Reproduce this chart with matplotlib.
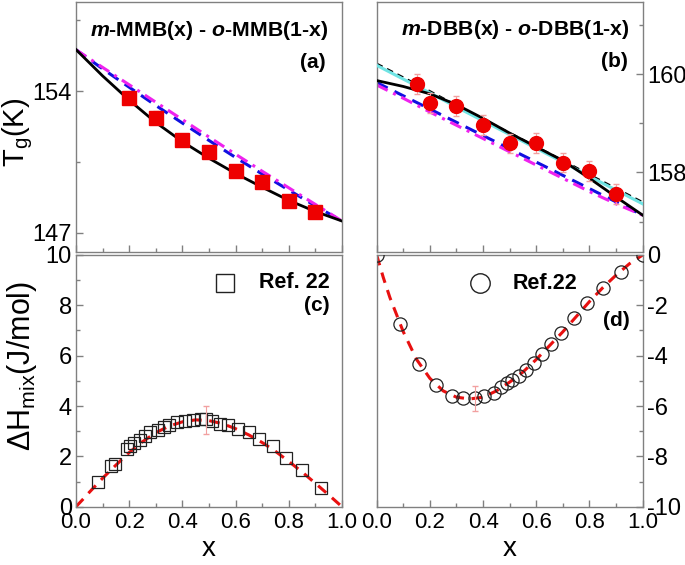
import matplotlib
matplotlib.use('Agg')
import matplotlib.pyplot as plt
from matplotlib.ticker import MultipleLocator, NullFormatter

plt.rcParams['font.family'] = ['Liberation Sans', 'DejaVu Sans']
plt.rcParams['mathtext.fontset'] = 'custom'
plt.rcParams['mathtext.rm'] = 'Liberation Sans'
plt.rcParams['mathtext.it'] = 'Liberation Sans:italic:bold'
plt.rcParams['mathtext.bf'] = 'Liberation Sans:bold'
plt.rcParams['axes.unicode_minus'] = False

# (a) m-MMB / o-MMB glass transition
x_a = [0.2, 0.3, 0.4, 0.5, 0.6, 0.7, 0.8, 0.9]
tg_a = [153.66, 152.69, 151.57, 150.97, 150.06, 149.52, 148.58, 148.04]
tg_a_err = [0.3] * 8
x_fit = [0.0, 0.1, 0.2, 0.3, 0.4, 0.5, 0.6, 0.7, 0.8, 0.9, 1.0]
a_black = [156.05, 154.75, 153.55, 152.45, 151.50, 150.68, 149.93, 149.25, 148.60, 148.05, 147.58]
a_blue = [156.04, 155.10, 154.19, 153.29, 152.42, 151.56, 150.72, 149.90, 149.11, 148.33, 147.58]
a_magenta = [156.04, 155.17, 154.31, 153.45, 152.59, 151.73, 150.88, 150.04, 149.22, 148.40, 147.58]

# (b) m-DBB / o-DBB glass transition
x_b = [0.15, 0.2, 0.3, 0.4, 0.5, 0.6, 0.7, 0.8, 0.9]
tg_b = [159.80, 159.41, 159.35, 158.97, 158.59, 158.60, 158.20, 158.03, 157.56]
tg_b_err = [0.2] * 9
b_black = [159.87, 159.75, 159.60, 159.38, 159.10, 158.80, 158.52, 158.24, 157.88, 157.50, 157.13]
b_cyan = [160.18, 159.90, 159.62, 159.33, 159.05, 158.77, 158.49, 158.21, 157.92, 157.64, 157.36]
b_blue = [159.83, 159.56, 159.29, 159.02, 158.75, 158.48, 158.21, 157.94, 157.67, 157.40, 157.13]
b_magenta = [159.78, 159.51, 159.23, 158.96, 158.69, 158.42, 158.15, 157.88, 157.61, 157.36, 157.13]

# (c) mixing enthalpy m-MMB / o-MMB, Ref. 22
x_c = [0.083, 0.13, 0.145, 0.19, 0.205, 0.22, 0.24, 0.26, 0.28, 0.31, 0.33, 0.35,
       0.38, 0.41, 0.44, 0.47, 0.49, 0.51, 0.54, 0.57, 0.61, 0.65, 0.69, 0.74,
       0.79, 0.85, 0.92]
h_c = [0.97, 1.60, 1.70, 2.30, 2.40, 2.55, 2.65, 2.80, 2.95, 3.05, 3.15, 3.25,
       3.35, 3.40, 3.45, 3.50, 3.50, 3.40, 3.30, 3.25, 3.10, 2.95, 2.70, 2.40,
       1.95, 1.45, 0.75]
x_curve = [0.0, 0.025, 0.05, 0.1, 0.15, 0.2, 0.25, 0.3, 0.35, 0.4, 0.45, 0.5, 0.55,
           0.6, 0.65, 0.7, 0.75, 0.8, 0.85, 0.9, 0.95, 1.0]
c_curve = [0.0, 0.28, 0.57, 1.13, 1.65, 2.15, 2.58, 2.94, 3.20, 3.37, 3.45, 3.42, 3.30,
           3.10, 2.85, 2.55, 2.20, 1.80, 1.38, 0.93, 0.47, 0.0]

# (d) mixing enthalpy m-DBB / o-DBB, Ref.22
x_d = [0.0, 0.088, 0.159, 0.224, 0.284, 0.326, 0.37, 0.405, 0.44, 0.466, 0.489, 0.51,
       0.535, 0.561, 0.591, 0.62, 0.655, 0.693, 0.743, 0.792, 0.852, 0.918, 1.0]
h_d = [0.0, -2.75, -4.32, -5.15, -5.61, -5.70, -5.70, -5.62, -5.48, -5.24, -5.08, -4.97,
       -4.81, -4.57, -4.28, -3.92, -3.55, -3.11, -2.51, -1.91, -1.32, -0.66, 0.0]
d_curve = [0.0, -0.90, -1.70, -3.05, -4.15, -4.90, -5.40, -5.65, -5.72, -5.65, -5.40,
           -5.05, -4.65, -4.15, -3.60, -3.05, -2.45, -1.85, -1.30, -0.80, -0.35, 0.0]

GREY = '#808080'
ERR = '#f2a0a0'


def style_axes(ax, side):
    for sp in ax.spines.values():
        sp.set_color(GREY)
        sp.set_linewidth(1.0)
    ax.xaxis.set_major_locator(MultipleLocator(0.2))
    ax.xaxis.set_minor_locator(MultipleLocator(0.1))
    ax.set_xlim(0, 1)
    kw = dict(direction='in', color=GREY, top=False, bottom=True)
    if side == 'left':
        ax.tick_params(which='both', left=True, right=False, labelleft=True, labelright=False, **kw)
    else:
        ax.tick_params(which='both', left=False, right=True, labelleft=False, labelright=True, **kw)
    ax.tick_params(which='major', length=5, width=1)
    ax.tick_params(which='minor', length=3, width=1)
    ax.tick_params(axis='y', labelsize=17, pad=3)
    ax.tick_params(axis='x', labelsize=16, pad=4)


fig = plt.figure(figsize=(6.85, 5.65), dpi=100)
ax_a = fig.add_axes([0.1109, 0.554, 0.3883, 0.4425])
ax_b = fig.add_axes([0.5499, 0.554, 0.3883, 0.4425])
ax_c = fig.add_axes([0.1109, 0.1032, 0.3883, 0.4455])
ax_d = fig.add_axes([0.5499, 0.1032, 0.3883, 0.4455])

# (a)
style_axes(ax_a, 'left')
ax_a.plot(x_fit, a_blue, color='#1010e0', ls=(0, (4, 2.5)), lw=2.2, zorder=2)
ax_a.plot(x_fit, a_magenta, color='#ee22ee', ls=(0, (4, 2, 1, 2)), lw=2.2, zorder=2)
ax_a.plot(x_fit, a_black, color='black', lw=2, zorder=3)
ax_a.errorbar(x_a, tg_a, yerr=tg_a_err, fmt='s', color='#ee0000', ms=9.5, ecolor=ERR,
              elinewidth=0.8, capsize=2, zorder=4)
ax_a.set_ylim(146.05, 158.4)
ax_a.set_yticks([147, 154])
ax_a.yaxis.set_minor_locator(MultipleLocator(3.5))
ax_a.xaxis.set_major_formatter(NullFormatter())
ax_a.set_ylabel(r'T$_\mathrm{g}$(K)', fontsize=21)
ax_a.yaxis.set_label_coords(-0.155, 0.48)
ax_a.text(0.5, 157.0, r'$\mathit{m}$-MMB(x) - $\mathit{o}$-MMB(1-x)', fontsize=15.3,
          fontweight='bold', ha='center', va='center')
ax_a.text(0.94, 155.43, '(a)', fontsize=15, fontweight='bold', ha='right', va='center')

# (b)
style_axes(ax_b, 'right')
ax_b.plot(x_fit, b_blue, color='#1010e0', ls=(0, (4, 2.5)), lw=2.2, zorder=2)
ax_b.plot(x_fit, b_magenta, color='#ee22ee', ls=(0, (4, 2, 1, 2)), lw=2.2, zorder=2)
ax_b.plot(x_fit, [v + 0.04 for v in b_cyan], color='black', ls=(0, (4, 3)), lw=1.2, zorder=2)
ax_b.plot(x_fit, b_cyan, color='#70e4e4', lw=2.2, zorder=3)
ax_b.plot(x_fit, b_black, color='black', lw=2, zorder=3)
ax_b.errorbar(x_b, tg_b, yerr=tg_b_err, fmt='o', color='#ee0000', ms=10, ecolor=ERR,
              elinewidth=0.8, capsize=2, zorder=4)
ax_b.set_ylim(156.38, 161.47)
ax_b.set_yticks([158, 160])
ax_b.yaxis.set_minor_locator(MultipleLocator(1))
ax_b.xaxis.set_major_formatter(NullFormatter())
ax_b.text(0.52, 160.9, r'$\mathit{m}$-DBB(x) - $\mathit{o}$-DBB(1-x)', fontsize=15.3,
          fontweight='bold', ha='center', va='center')
ax_b.text(0.945, 160.25, '(b)', fontsize=15, fontweight='bold', ha='right', va='center')

# (c)
style_axes(ax_c, 'left')
ax_c.plot(x_curve, c_curve, color='#e81010', ls=(0, (3.5, 2.5)), lw=2.2, zorder=2)
ax_c.plot(x_c, h_c, 's', mfc='none', mec='#222222', mew=0.9, ms=8, zorder=3)
ax_c.errorbar([0.49], [3.45], yerr=[0.55], fmt='none', ecolor=ERR, elinewidth=0.8,
              capsize=2, zorder=4)
ax_c.set_ylim(0, 10)
ax_c.yaxis.set_major_locator(MultipleLocator(2))
ax_c.yaxis.set_minor_locator(MultipleLocator(1))
ax_c.plot([0.559], [8.9], 's', mfc='none', mec='#222222', mew=1.0, ms=13)
ax_c.text(0.69, 8.9, 'Ref. 22', fontsize=15.5, fontweight='bold', ha='left', va='center')
ax_c.text(0.955, 8.0, '(c)', fontsize=15, fontweight='bold', ha='right', va='center')
ax_c.set_ylabel(r'$\Delta$H$_\mathrm{mix}$(J/mol)', fontsize=22)
ax_c.yaxis.set_label_coords(-0.14, 0.56)
ax_c.set_xlabel('x', fontsize=20, labelpad=2)

# (d)
style_axes(ax_d, 'right')
ax_d.plot(x_curve, d_curve, color='#e81010', ls=(0, (3.5, 2.5)), lw=2.2, zorder=2)
ax_d.plot(x_d, h_d, 'o', mfc='none', mec='#222222', mew=0.9, ms=9.5, zorder=3)
ax_d.errorbar([0.37], [-5.7], yerr=[0.5], fmt='none', ecolor=ERR, elinewidth=0.8,
              capsize=2, zorder=4)
ax_d.set_ylim(-10, 0)
ax_d.yaxis.set_major_locator(MultipleLocator(2))
ax_d.yaxis.set_minor_locator(MultipleLocator(1))
ax_d.plot([0.388], [-1.13], 'o', mfc='none', mec='#222222', mew=1.0, ms=14)
ax_d.text(0.51, -1.13, 'Ref.22', fontsize=15.5, fontweight='bold', ha='left', va='center')
ax_d.text(0.85, -2.6, '(d)', fontsize=15, fontweight='bold', ha='left', va='center')
ax_d.set_xlabel('x', fontsize=20, labelpad=2)

fig.savefig('out.png', dpi=100)
